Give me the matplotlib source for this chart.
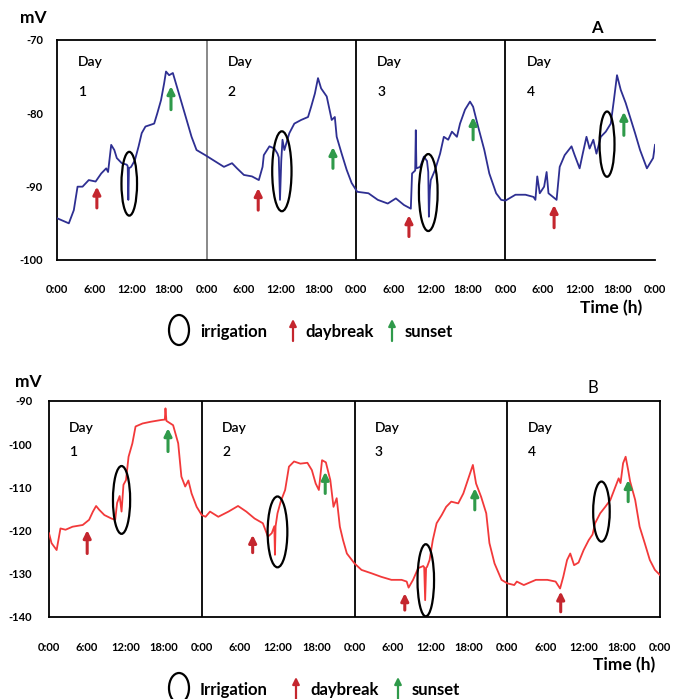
import matplotlib
matplotlib.use("Agg")
import matplotlib.pyplot as plt
from matplotlib.patches import Ellipse

plt.rcParams['font.family'] = ['Lato', 'DejaVu Sans']

# ---------------- data ----------------
day_ticks = [0, 6, 12, 18, 24, 30, 36, 42, 48, 54, 60, 66, 72, 78, 84, 90, 96]
tick_labels = ["0:00", "6:00", "12:00", "18:00"] * 4 + ["0:00"]
day_names = ["1", "2", "3", "4"]

# Panel A (blue)
a_hours = [0, 1.9, 2.7, 3.3, 4.1, 5.1, 6.2, 7.1, 7.9, 8.2, 8.7, 9.2, 9.6, 10.4, 11.2, 11.35, 11.45, 11.55, 11.9,
           12.5, 13.1, 13.6, 14.2, 15.6, 16.1, 16.7, 17.2, 17.5, 18.0, 18.6, 19.4, 20.5, 21.6, 22.4, 23.8,
           25.1, 26.8, 28.1, 28.9, 30.0, 31.3, 32.4, 33.0, 33.2, 34.1, 34.9, 35.4, 35.6, 35.8, 36.0, 36.2,
           36.5, 37.3, 38.1, 39.2, 40.3, 40.8, 41.4, 41.9, 42.4, 43.3, 44.1, 44.6, 44.9, 45.7, 46.5, 47.3,
           48.2, 50.0, 51.5, 53.1, 54.4, 55.7, 56.8, 57.0, 57.5, 57.6, 57.7, 58.3, 58.9, 59.4, 59.6, 59.7,
           59.85, 60.0, 60.7, 61.5, 62.1, 62.8, 63.4, 64.2, 64.7, 65.5, 66.3, 66.8, 67.6, 68.6, 69.4, 70.5, 71.3,
           72.0, 73.6, 75.2, 76.5, 76.8, 77.1, 77.5, 78.2, 78.6, 78.9, 80.2, 80.7, 81.5, 82.6, 83.1, 83.9,
           84.4, 85.0, 85.5, 86.1, 86.6, 87.3, 88.1, 88.9, 89.4, 89.9, 90.5, 91.3, 92.0, 92.8, 93.6, 94.7,
           95.7, 96.0]
a_mv = [-94.3, -95.0, -93.2, -90.0, -90.0, -89.1, -89.3, -88.2, -87.5, -88.0, -84.3, -85.0, -86.1, -86.8, -87.0, -87.2, -91.8, -87.5, -87.3,
        -86.4, -84.5, -82.7, -81.8, -81.4, -80.0, -78.2, -75.9, -74.3, -74.8, -74.5, -76.8, -80.0, -83.2, -85.0, -85.7,
        -86.4, -87.3, -86.8, -87.5, -88.4, -88.6, -89.1, -87.3, -85.7, -84.5, -84.8, -85.5, -86.0, -91.8, -86.5, -83.6,
        -85.0, -82.7, -81.4, -80.9, -80.5, -79.1, -77.3, -75.2, -76.6, -77.7, -80.9, -80.5, -83.2, -85.5, -87.7, -89.5,
        -90.7, -90.9, -91.8, -92.3, -91.6, -92.5, -93.0, -88.2, -87.8, -82.3, -87.5, -87.3, -85.9, -86.5, -88.0, -94.1,
        -90.5, -89.1, -87.7, -85.5, -83.2, -83.6, -82.5, -83.2, -81.4, -79.5, -78.4, -79.1, -81.8, -85.0, -88.2, -90.9, -91.8,
        -91.9, -91.1, -91.1, -91.4, -91.8, -88.6, -90.9, -90.0, -88.0, -90.9, -91.8, -87.3, -85.7, -84.5, -85.7, -87.5,
        -85.5, -83.2, -84.8, -83.6, -85.5, -83.2, -82.5, -81.4, -78.2, -74.8, -76.8, -78.6, -80.5, -82.7, -85.0, -87.5,
        -86.1, -84.3]
a_daybreak_h = [6.4, 32.3, 56.5, 79.8]
a_daybreak_base = [-92.9, -93.2, -96.8, -95.6]
a_daybreak_tip = [-90.0, -90.2, -93.9, -92.5]
a_sunset_h = [18.3, 44.3, 66.8, 91.0]
a_sunset_base = [-79.5, -87.5, -83.6, -83.0]
a_sunset_tip = [-76.3, -84.6, -80.5, -79.8]
a_irr_h = [11.6, 36.1, 59.6, 88.3]
a_irr_mv = [-89.6, -87.9, -90.8, -84.2]
a_irr_w = [2.5, 3.1, 3.0, 2.4]
a_irr_ht = [8.7, 10.9, 10.5, 8.9]

# Panel B (red)
b_hours = [0, 0.4, 1.2, 1.8, 2.6, 3.7, 5.3, 6.3, 6.9, 7.4, 7.9, 8.7, 9.8, 10.4, 10.7, 11.1, 11.4, 11.7, 12.1,
           12.5, 13.1, 13.6, 14.7, 16.0, 17.6, 18.2, 18.3, 18.45, 19.5, 20.3, 20.8, 21.4, 21.9, 22.4, 23.2,
           24.0, 24.6, 25.3, 26.6, 28.2, 29.7, 31.0, 32.3, 33.6, 34.4, 35.0, 35.4, 35.5, 35.6, 35.9, 36.4,
           37.1, 37.7, 38.5, 39.5, 40.6, 41.3, 41.9, 42.4, 42.9, 43.5, 44.2, 44.7, 45.2, 45.7, 46.2, 46.8, 47.8,
           48.0, 49.1, 50.7, 52.2, 53.8, 55.4, 56.2, 56.5, 57.2, 58.0, 58.8, 58.95, 59.1, 59.25, 59.4, 59.8,
           60.3, 60.9, 61.7, 62.4, 63.2, 64.3, 65.1, 65.8, 66.6, 67.1, 67.9, 68.7, 69.2, 70.0, 71.1,
           72.0, 73.1, 73.5, 74.6, 76.5, 78.3, 79.6, 80.3, 80.8, 81.4, 81.9, 82.5, 83.2, 84.0, 84.8, 85.4,
           85.8, 86.6, 87.4, 88.2, 88.9, 89.5, 89.8, 90.2, 90.6, 91.0, 91.3, 92.1, 92.8, 93.6, 94.4, 95.2, 96.0]
b_mv = [-120.6, -122.9, -124.5, -119.5, -119.8, -119.1, -118.7, -117.5, -115.6, -114.3, -115.2, -116.4, -117.2, -117.5, -113.6, -112.0, -115.6, -109.4, -108.3,
        -102.9, -99.8, -95.9, -95.2, -94.8, -94.4, -94.3, -91.7, -94.6, -95.6, -99.8, -107.5, -109.8, -108.4, -111.4, -114.5,
        -116.4, -116.8, -115.6, -116.8, -115.6, -114.3, -115.6, -117.2, -118.3, -121.4, -120.6, -119.0, -125.6, -119.0, -116.0, -113.3,
        -110.6, -105.2, -104.0, -104.5, -104.3, -106.0, -109.1, -110.6, -103.7, -104.2, -108.3, -114.5, -112.5, -119.1, -122.2, -125.3, -127.2,
        -127.6, -129.1, -129.9, -130.7, -131.4, -131.4, -131.8, -133.2, -131.4, -128.7, -128.2, -128.5, -136.1, -128.6, -128.4, -126.8,
        -122.2, -118.3, -116.4, -114.5, -113.3, -113.7, -111.4, -108.3, -104.8, -109.1, -112.2, -116.0, -122.9, -127.6, -131.4,
        -132.2, -132.6, -131.8, -132.6, -131.4, -131.4, -131.8, -133.4, -130.7, -126.8, -125.3, -128.0, -127.4, -124.5, -122.2, -120.9,
        -118.3, -116.0, -114.5, -112.9, -110.2, -107.9, -109.0, -104.4, -102.9, -106.0, -108.6, -112.9, -119.1, -122.9, -126.8, -129.1, -130.3]
b_daybreak_h = [6.0, 32.0, 55.9, 80.4]
b_daybreak_base = [-125.3, -125.1, -138.4, -138.8]
b_daybreak_tip = [-119.9, -121.0, -134.5, -134.1]
b_sunset_h = [18.7, 43.4, 66.9, 91.0]
b_sunset_base = [-101.7, -111.4, -115.2, -113.3]
b_sunset_tip = [-96.3, -106.4, -110.2, -108.3]
b_irr_h = [11.4, 35.9, 59.2, 86.8]
b_irr_mv = [-112.9, -120.3, -131.5, -115.6]
b_irr_w = [2.7, 3.1, 2.6, 2.6]
b_irr_ht = [15.7, 16.4, 16.7, 13.9]

# ---------------- styles ----------------
BLUE = '#2e2f92'
RED = '#f2393a'
DARKRED = '#c4262e'
GREEN = '#2f9a4a'

W, H = 675, 699
fig = plt.figure(figsize=(W / 100, H / 100), dpi=100)


def px_rect(l, t, r, b):
    return [l / W, 1 - b / H, (r - l) / W, (b - t) / H]


def draw_panel(rect, hours, mv, color, ylim, yticks, db, ss, irr, day_y, sep_colors,
               right_spine, ypad, xpad):
    ax = fig.add_axes(rect)
    ax.plot(hours, mv, color=color, lw=1.3, zorder=3)
    ax.set_xlim(0, 96)
    ax.set_ylim(*ylim)
    ax.set_yticks(yticks)
    ax.set_yticklabels([str(v) for v in yticks])
    ax.set_xticks(day_ticks)
    ax.set_xticklabels(tick_labels)
    ax.tick_params(length=0, labelsize=8, colors='black')
    ax.tick_params(axis='y', pad=ypad)
    ax.tick_params(axis='x', pad=xpad)
    for lab in ax.get_xticklabels() + ax.get_yticklabels():
        lab.set_fontweight('bold')
    for s in ['left', 'top', 'bottom', 'right']:
        ax.spines[s].set_linewidth(1.3)
        ax.spines[s].set_color('black')
    ax.spines['right'].set_visible(right_spine)
    for x, c in zip([24, 48, 72], sep_colors):
        ax.axvline(x, color=c, lw=1.3, zorder=2)
    dh, dbase, dtip = db
    for h, b0, t0 in zip(dh, dbase, dtip):
        ax.annotate('', xy=(h, t0), xytext=(h, b0),
                    arrowprops=dict(arrowstyle='-|>', color=DARKRED, lw=2.2,
                                    mutation_scale=11, shrinkA=0, shrinkB=0), zorder=4)
    sh, sbase, stip = ss
    for h, b0, t0 in zip(sh, sbase, stip):
        ax.annotate('', xy=(h, t0), xytext=(h, b0),
                    arrowprops=dict(arrowstyle='-|>', color=GREEN, lw=2.2,
                                    mutation_scale=11, shrinkA=0, shrinkB=0), zorder=4)
    for h, v, w, hh in zip(*irr):
        ax.add_patch(Ellipse((h, v), w, hh, fill=False, ec='black', lw=1.6, zorder=5))
    for i, name in enumerate(day_names):
        x0 = 24 * i + day_y[0]
        ax.text(x0, day_y[1], 'Day', fontsize=10, fontweight='semibold', ha='left', va='center')
        ax.text(x0, day_y[2], name, fontsize=10, fontweight='semibold', ha='left', va='center')
    return ax


axA = draw_panel(px_rect(57, 40, 655, 260), a_hours, a_mv, BLUE, (-100, -70),
                 [-100, -90, -80, -70],
                 (a_daybreak_h, a_daybreak_base, a_daybreak_tip),
                 (a_sunset_h, a_sunset_base, a_sunset_tip),
                 (a_irr_h, a_irr_mv, a_irr_w, a_irr_ht),
                 (3.4, -73.0, -77.1), ['#808080', 'black', 'black'], False, 10, 17)

axB = draw_panel(px_rect(49, 401, 660, 617), b_hours, b_mv, RED, (-140, -90),
                 [-140, -130, -120, -110, -100, -90],
                 (b_daybreak_h, b_daybreak_base, b_daybreak_tip),
                 (b_sunset_h, b_sunset_base, b_sunset_tip),
                 (b_irr_h, b_irr_mv, b_irr_w, b_irr_ht),
                 (3.2, -96.3, -101.8), ['black', 'black', 'black'], True, 12, 18)

# overlay for figure-level annotations (pixel coordinates)
ov = fig.add_axes([0, 0, 1, 1])
ov.set_xlim(0, W)
ov.set_ylim(H, 0)
ov.axis('off')

ov.text(20, 18, 'mV', fontsize=12.5, fontweight='bold', ha='left', va='center')
ov.text(15, 382, 'mV', fontsize=12.5, fontweight='bold', ha='left', va='center')
ov.text(597, 28, 'A', fontsize=12, fontweight='bold', ha='center', va='center')
ov.text(593, 388, 'B', fontsize=12, ha='center', va='center')
ov.text(642, 308, 'Time (h)', fontsize=12.5, fontweight='bold', ha='right', va='center')
ov.text(655, 665, 'Time (h)', fontsize=12.5, fontweight='bold', ha='right', va='center')

legend_rows = [
    (330, 'irrigation', 179, 200, 293, 305, 392, 405),
    (688, 'Irrigation', 179, 200, 296, 310, 398, 412),
]
for y, irr_label, ex, tx, rx, dx, gx, sx in legend_rows:
    ov.add_patch(Ellipse((ex, y), 20, 30, fill=False, ec='black', lw=1.6))
    ov.text(tx, y + 2, irr_label, fontsize=12, fontweight='bold', ha='left', va='center')
    ov.annotate('', xy=(rx, y - 11), xytext=(rx, y + 11),
                arrowprops=dict(arrowstyle='-|>', color=DARKRED, lw=1.6,
                                mutation_scale=10, shrinkA=0, shrinkB=0))
    ov.text(dx, y + 2, 'daybreak', fontsize=12, fontweight='bold', ha='left', va='center')
    ov.annotate('', xy=(gx, y - 11), xytext=(gx, y + 11),
                arrowprops=dict(arrowstyle='-|>', color=GREEN, lw=1.6,
                                mutation_scale=10, shrinkA=0, shrinkB=0))
    ov.text(sx, y + 2, 'sunset', fontsize=12, fontweight='bold', ha='left', va='center')

fig.savefig('out.png', dpi=100)
